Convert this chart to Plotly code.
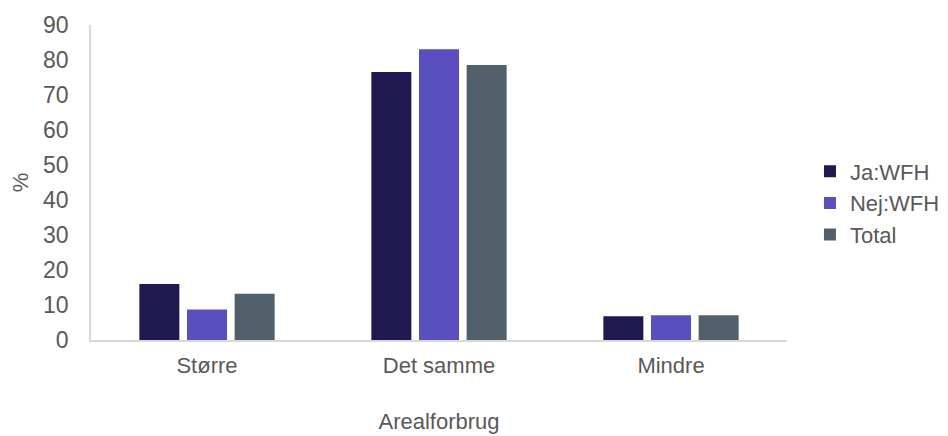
import plotly.graph_objects as go

categories = ["Større", "Det samme", "Mindre"]
series_names = ["Ja:WFH", "Nej:WFH", "Total"]
ja_wfh = [16.0, 76.6, 6.8]
nej_wfh = [8.7, 83.1, 7.1]
total = [13.2, 78.6, 7.1]
colors = ["#211A52", "#5A4FBF", "#52606B"]
y_ticks = [0, 10, 20, 30, 40, 50, 60, 70, 80, 90]

fig = go.Figure()
for name, vals, col in zip(series_names, [ja_wfh, nej_wfh, total], colors):
    fig.add_trace(go.Bar(x=categories, y=vals, name=name, marker_color=col,
                         marker_line_width=0))

font_family = "Liberation Sans, Arial, sans-serif"
fig.update_layout(
    width=940, height=428,
    margin=dict(l=83, r=161, t=17, b=96, autoexpand=False),
    paper_bgcolor="white", plot_bgcolor="white",
    barmode="group", bargap=0.384, bargroupgap=0.16,
    font=dict(family=font_family, size=22, color="#595959"),
    legend=dict(x=1.033, y=0.435, xanchor="left", yanchor="middle",
                font=dict(size=22, color="#595959"), tracegroupgap=0,
                itemwidth=30, bgcolor="rgba(0,0,0,0)"),
    xaxis=dict(showline=True, linecolor="#D9D9D9", linewidth=1.5,
               showgrid=False, ticks="", ticklabelstandoff=5, automargin=False,
               tickfont=dict(size=22),
               title=dict(text="Arealforbrug", standoff=36,
                          font=dict(size=22, color="#595959"))),
    yaxis=dict(range=[0, 90], tickvals=y_ticks, showline=True,
               linecolor="#D9D9D9", linewidth=1.5, showgrid=False,
               zeroline=False, ticks="", ticklabelstandoff=16, automargin=False,
               tickfont=dict(size=23),
               title=dict(text="%", standoff=20,
                          font=dict(size=22, color="#595959"))),
)

fig.write_html("out.html")
